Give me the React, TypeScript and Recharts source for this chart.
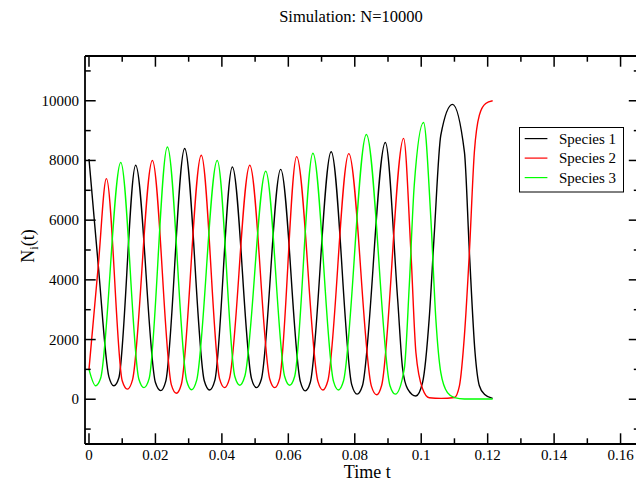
import React from 'react';
import { LineChart, Line, XAxis, YAxis, Legend } from 'recharts';

const chartTitle = 'Simulation: N=10000';
const xAxisTitle = 'Time t';
const seriesNames = ['Species 1', 'Species 2', 'Species 3'];
const seriesColors = ['#000000', '#ff0000', '#00ff00'];

const species1Time = [0, 0.0028, 0.006, 0.0075, 0.009, 0.01405, 0.02, 0.02158, 0.0231, 0.0288, 0.0347, 0.0363, 0.0379, 0.04315, 0.0489, 0.0504, 0.0519, 0.0577, 0.0636, 0.0651, 0.0666, 0.0729, 0.0791, 0.0807, 0.0823, 0.0892, 0.0929, 0.0944, 0.0959, 0.0984, 0.1004, 0.1024, 0.1039, 0.1059, 0.1094, 0.113, 0.1145, 0.1162, 0.1175, 0.119, 0.1215];
const species1Count = [8050, 4480, 750, 450, 720, 7840, 560, 290, 600, 8400, 620, 310, 640, 7780, 700, 390, 680, 7700, 600, 280, 560, 8290, 480, 170, 450, 8600, 3360, 1020, 350, 110, 560, 2700, 5490, 8850, 9880, 8290, 4925, 1565, 450, 170, 30];

const species2Time = [0, 0.0028, 0.00524, 0.01, 0.01156, 0.0131, 0.01908, 0.0248, 0.0263, 0.0278, 0.0338, 0.0393, 0.0408, 0.0423, 0.0484, 0.0544, 0.0559, 0.0574, 0.0625, 0.0689, 0.0704, 0.0719, 0.0782, 0.085, 0.0866, 0.0881, 0.0947, 0.0969, 0.0984, 0.1004, 0.1024, 0.106, 0.11, 0.1115, 0.113, 0.1145, 0.116, 0.1175, 0.1194, 0.1215];
const species2Count = [1000, 4480, 7390, 620, 340, 650, 8000, 480, 200, 500, 8175, 690, 390, 700, 7840, 680, 390, 700, 8130, 600, 310, 620, 8230, 440, 150, 470, 8740, 4925, 1565, 350, 50, 30, 60, 450, 2130, 4925, 8290, 9520, 9910, 10000];

const species3Time = [0, 0.002, 0.0035, 0.00957, 0.015, 0.01655, 0.0181, 0.0236, 0.0294, 0.0309, 0.0324, 0.0386, 0.0439, 0.0454, 0.0469, 0.0532, 0.0589, 0.0604, 0.0619, 0.0674, 0.0736, 0.0751, 0.0766, 0.0835, 0.0906, 0.0922, 0.0949, 0.0964, 0.0979, 0.1007, 0.1029, 0.1044, 0.1059, 0.1079, 0.11, 0.113, 0.1215];
const species3Count = [1000, 450, 700, 7930, 680, 390, 690, 8450, 620, 320, 630, 8000, 760, 470, 770, 7640, 760, 470, 760, 8240, 600, 310, 610, 8870, 450, 170, 1020, 3800, 7170, 9270, 6050, 2690, 890, 220, 55, 10, 10];

const xDomain = [-0.0012, 0.1657];
const yDomain = [-1500, 11500];
const xTicks = [0, 0.01, 0.02, 0.03, 0.04, 0.05, 0.06, 0.07, 0.08, 0.09, 0.1, 0.11, 0.12, 0.13, 0.14, 0.15, 0.16];
const xMajorTicks = [0, 0.02, 0.04, 0.06, 0.08, 0.1, 0.12, 0.14, 0.16];
const yTicks = [-1000, 0, 1000, 2000, 3000, 4000, 5000, 6000, 7000, 8000, 9000, 10000, 11000];
const yMajorTicks = [0, 2000, 4000, 6000, 8000, 10000];

const FONT = "'Liberation Serif', 'Times New Roman', serif";
const MAJOR = 10.7;
const MINOR = 5.7;
const TICK_W = 1.5;
const FRAME = { stroke: '#000', strokeWidth: 1.8 };

const toPoints = (ts: number[], vs: number[]) => ts.map((t, i) => ({ t, v: vs[i] }));
const seriesData = [
  toPoints(species1Time, species1Count),
  toPoints(species2Time, species2Count),
  toPoints(species3Time, species3Count),
];

const isMajorX = (v: number) => xMajorTicks.some((m) => Math.abs(m - v) < 1e-9);
const isMajorY = (v: number) => yMajorTicks.includes(v);

const BottomTick = (props: any) => {
  const { x, y, payload } = props;
  const major = isMajorX(payload.value);
  return (
    <g>
      <line x1={x} y1={y} x2={x} y2={y - (major ? MAJOR : MINOR)} stroke="#000" strokeWidth={TICK_W} />
      {major && (
        <text x={x} y={y + 16} textAnchor="middle" fontFamily={FONT} fontSize={15} fill="#000">
          {String(payload.value)}
        </text>
      )}
    </g>
  );
};

const TopTick = (props: any) => {
  const { x, y, payload } = props;
  const major = isMajorX(payload.value);
  return <line x1={x} y1={y} x2={x} y2={y + (major ? MAJOR : MINOR)} stroke="#000" strokeWidth={TICK_W} />;
};

const LeftTick = (props: any) => {
  const { x, y, payload } = props;
  const major = isMajorY(payload.value);
  return (
    <g>
      <line x1={x} y1={y} x2={x + (major ? MAJOR : MINOR)} y2={y} stroke="#000" strokeWidth={TICK_W} />
      {major && (
        <text x={x - 6} y={y + 5} textAnchor="end" fontFamily={FONT} fontSize={15} fill="#000">
          {String(payload.value)}
        </text>
      )}
    </g>
  );
};

const RightTick = (props: any) => {
  const { x, y, payload } = props;
  const major = isMajorY(payload.value);
  return <line x1={x} y1={y} x2={x - (major ? MAJOR : MINOR)} y2={y} stroke="#000" strokeWidth={TICK_W} />;
};

const XTitle = (props: any) => {
  const vb = props.viewBox;
  return (
    <text x={vb.x + vb.width / 2 + 5} y={vb.y + 34} textAnchor="middle" fontFamily={FONT} fontSize={18} fill="#000">
      {xAxisTitle}
    </text>
  );
};

const YTitle = (props: any) => {
  const vb = props.viewBox;
  const cx = vb.x + 34;
  const cy = vb.y + vb.height / 2 - 4;
  return (
    <text transform={`rotate(-90, ${cx}, ${cy})`} x={cx} y={cy} textAnchor="middle" fontFamily={FONT} fontSize={18} fill="#000">
      N<tspan fontSize={12} dy={4}>i</tspan><tspan dy={-4}>(t)</tspan>
    </text>
  );
};

const LegendBox = (props: any) => {
  const payload = (props.payload || []).filter((p: any) => p.type !== 'none');
  return (
    <svg width={106} height={66} style={{ display: 'block' }}>
      <rect x={0.5} y={0.5} width={104} height={64.5} fill="#fff" stroke="#000" strokeWidth={1} />
      {payload.map((p: any, i: number) => {
        const cy = 11.6 + i * 19.5;
        return (
          <g key={p.value}>
            <line x1={5.7} x2={28.4} y1={cy} y2={cy} stroke={p.color} strokeWidth={1.2} />
            <text x={40} y={cy + 5} fontFamily={FONT} fontSize={15} fill="#000">
              {p.value}
            </text>
          </g>
        );
      })}
    </svg>
  );
};

export default function App() {
  return (
    <div style={{ position: 'absolute', left: 0, top: 0, width: 636, height: 484, overflow: 'hidden', background: '#fff' }}>
      <LineChart width={660} height={484} margin={{ top: 55, right: 19.5, bottom: 0, left: 0 }}>
        <XAxis
          xAxisId="bottom"
          type="number"
          dataKey="t"
          orientation="bottom"
          domain={xDomain}
          allowDataOverflow
          ticks={xTicks}
          interval={0}
          height={40}
          tickSize={0}
          tickMargin={0}
          tickLine={false}
          axisLine={FRAME}
          tick={BottomTick}
          label={XTitle}
        />
        <XAxis
          xAxisId="top"
          type="number"
          dataKey="t"
          orientation="top"
          domain={xDomain}
          allowDataOverflow
          ticks={xTicks}
          interval={0}
          height={1}
          tickSize={0}
          tickMargin={0}
          tickLine={false}
          axisLine={FRAME}
          tick={TopTick}
        />
        <YAxis
          yAxisId="left"
          type="number"
          domain={yDomain}
          allowDataOverflow
          ticks={yTicks}
          interval={0}
          width={85}
          tickSize={0}
          tickMargin={0}
          tickLine={false}
          axisLine={FRAME}
          tick={LeftTick}
          label={YTitle}
        />
        <YAxis
          yAxisId="right"
          type="number"
          orientation="right"
          domain={yDomain}
          allowDataOverflow
          ticks={yTicks}
          interval={0}
          width={1}
          tickSize={0}
          tickMargin={0}
          tickLine={false}
          axisLine={FRAME}
          tick={RightTick}
        />
        <Line
          data={seriesData[0]}
          dataKey="v"
          name="frame"
          xAxisId="top"
          yAxisId="right"
          stroke="none"
          legendType="none"
          dot={false}
          activeDot={false}
          isAnimationActive={false}
        />
        {seriesData.map((d, i) => (
          <Line
            key={seriesNames[i]}
            data={d}
            dataKey="v"
            name={seriesNames[i]}
            xAxisId="bottom"
            yAxisId="left"
            type="monotone"
            stroke={seriesColors[i]}
            strokeWidth={1.4}
            dot={false}
            activeDot={false}
            isAnimationActive={false}
          />
        ))}
        <Legend
          layout="vertical"
          align="center"
          verticalAlign="middle"
          content={LegendBox}
          wrapperStyle={{ position: 'absolute', left: 519, top: 127, width: 106, height: 66 }}
        />
      </LineChart>
      <svg width={636} height={40} style={{ position: 'absolute', left: 0, top: 0, pointerEvents: 'none' }}>
        <text x={351} y={22} textAnchor="middle" fontFamily={FONT} fontSize={16.5} fill="#000">
          {chartTitle}
        </text>
      </svg>
    </div>
  );
}
